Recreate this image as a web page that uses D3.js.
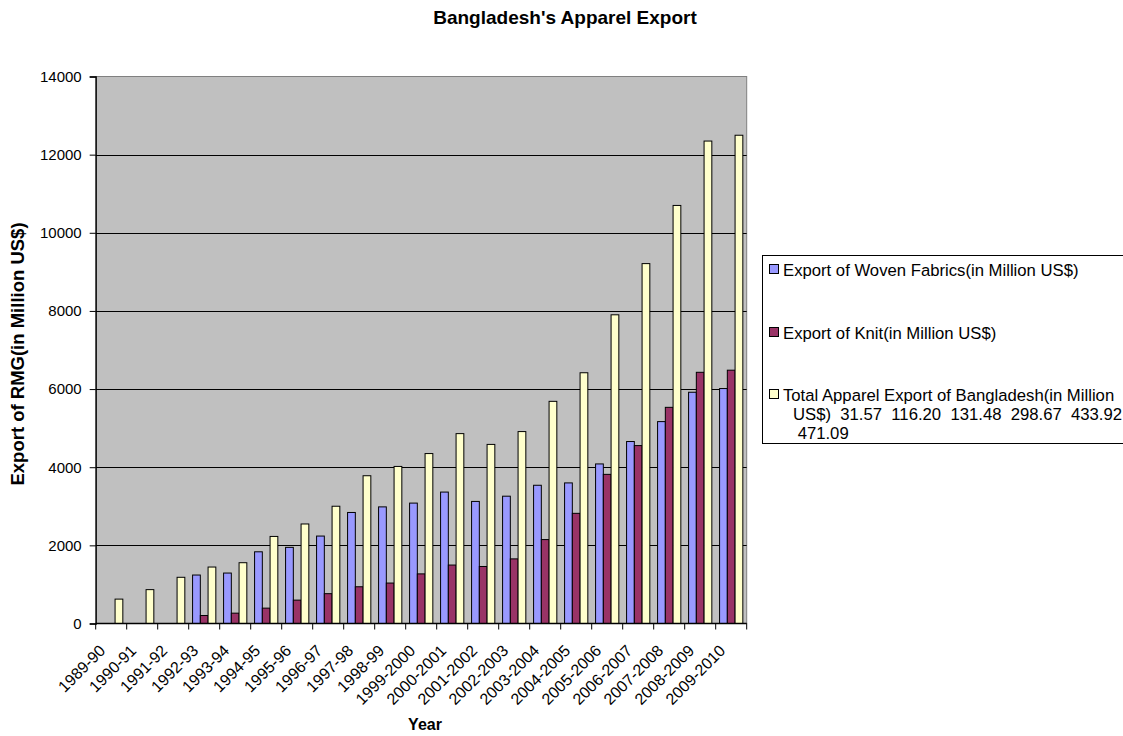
<!DOCTYPE html>
<html>
<head>
<meta charset="utf-8">
<script src="https://cdn.jsdelivr.net/npm/d3@7/dist/d3.min.js"></script>
<style>
  html, body { margin: 0; padding: 0; background: #fff; }
  svg { display: block; font-family: "Liberation Sans", Arial, sans-serif; }
</style>
</head>
<body>
<svg id="chart" width="1123" height="736"></svg>
<script>
// Fiscal years on the category axis
const years = ["1989-90", "1990-91", "1991-92", "1992-93", "1993-94", "1994-95", "1995-96",
  "1996-97", "1997-98", "1998-99", "1999-2000", "2000-2001", "2001-2002", "2002-2003",
  "2003-2004", "2004-2005", "2005-2006", "2006-2007", "2007-2008", "2008-2009", "2009-2010"];

// Export values, million US$ (null = no figure for that year)
const woven = [null, null, null, 1240.48, 1291.20, 1835.09, 1948.81, 2237.95, 2841.63, 2984.62,
  3081.58, 3363.68, 3124.56, 3258.26, 3538.07, 3598.20, 4083.82, 4657.63, 5167.28, 5918.51, 6013.43];
const knit = [null, null, null, 204.54, 264.59, 393.26, 598.32, 763.30, 940.31, 1035.36,
  1269.83, 1496.15, 1459.24, 1653.83, 2148.02, 2819.47, 3816.98, 4553.60, 5532.52, 6429.26, 6483.29];
const total = [624.16, 866.82, 1182.57, 1445.02, 1555.79, 2228.35, 2547.13, 3001.25, 3781.94, 4019.98,
  4349.41, 4859.83, 4583.75, 4912.09, 5686.09, 6417.67, 7900.80, 9211.23, 10699.80, 12347.77, 12496.72];

const yTicks = [0, 2000, 4000, 6000, 8000, 10000, 12000, 14000];

const seriesNames = [
  "Export of Woven Fabrics(in Million US$)",
  "Export of Knit(in Million US$)",
  "Total Apparel Export of Bangladesh(in Million"
];
const totalLegendExtra = ["US$)  31.57  116.20  131.48  298.67  433.92", " 471.09"];

const series = [
  { name: seriesNames[0], values: woven, color: "#9999FF" },
  { name: seriesNames[1], values: knit, color: "#993366" },
  { name: seriesNames[2], values: total, color: "#FFFFCC" }
];

const svg = d3.select("#chart");
const plot = { left: 95.7, right: 746.7, top: 76.5, bottom: 623.5 };

const x = d3.scaleBand().domain(years).range([plot.left, plot.right]).padding(0);
const xs = d3.scaleBand().domain(d3.range(series.length))
  .range([0, x.bandwidth()]).paddingInner(0).paddingOuter(0.5);
const y = d3.scaleLinear().domain([0, 14000]).range([plot.bottom, plot.top]);

// Plot area background
svg.append("rect")
  .attr("x", plot.left).attr("y", plot.top)
  .attr("width", plot.right - plot.left).attr("height", plot.bottom - plot.top)
  .attr("fill", "#C0C0C0").attr("stroke", "#808080").attr("stroke-width", 1);

// Horizontal gridlines
svg.append("g").selectAll("line")
  .data(yTicks.filter(t => t > 0 && t < 14000))
  .join("line")
  .attr("x1", plot.left).attr("x2", plot.right)
  .attr("y1", d => Math.round(y(d)) + 0.5).attr("y2", d => Math.round(y(d)) + 0.5)
  .attr("stroke", "#000").attr("stroke-width", 1);

// Bars
const groups = svg.append("g").selectAll("g")
  .data(series)
  .join("g")
  .attr("fill", d => d.color);

groups.each(function (s, si) {
  d3.select(this).selectAll("rect")
    .data(s.values.map((v, i) => ({ v, year: years[i] })).filter(d => d.v != null))
    .join("rect")
    .attr("x", d => x(d.year) + xs(si))
    .attr("width", xs.bandwidth())
    .attr("y", d => y(d.v))
    .attr("height", d => y(0) - y(d.v))
    .attr("stroke", "#000")
    .attr("stroke-width", 1);
});

// Y axis
const yAxis = svg.append("g")
  .attr("transform", `translate(${plot.left},0)`)
  .call(d3.axisLeft(y).tickValues(yTicks).tickSize(6).tickPadding(8).tickFormat(d3.format("d")));
yAxis.select(".domain").attr("stroke", "#000").attr("stroke-width", 1.3);
yAxis.selectAll(".tick line").attr("stroke", "#000");
yAxis.selectAll("text").attr("font-size", 15).attr("fill", "#000")
  .attr("font-family", "'Liberation Sans', Arial, sans-serif");

// X axis: ticks at category boundaries
const xAxis = svg.append("g").attr("transform", `translate(0,${plot.bottom})`);
xAxis.append("line")
  .attr("x1", plot.left).attr("x2", plot.right)
  .attr("stroke", "#000").attr("stroke-width", 1.3);
xAxis.selectAll("line.tk")
  .data(years.concat(["end"]))
  .join("line").attr("class", "tk")
  .attr("x1", (d, i) => i < years.length ? x(d) : plot.right)
  .attr("x2", (d, i) => i < years.length ? x(d) : plot.right)
  .attr("y1", 0).attr("y2", 6)
  .attr("stroke", "#000");
xAxis.selectAll("text")
  .data(years)
  .join("text")
  .attr("transform", d => `translate(${x(d) + x.bandwidth() / 2 - 13},${20}) rotate(-45)`)
  .attr("text-anchor", "end")
  .attr("dy", "0.72em")
  .attr("font-size", 16)
  .attr("fill", "#000")
  .text(d => d);

// Title and axis titles
svg.append("text")
  .attr("x", 565).attr("y", 24)
  .attr("text-anchor", "middle")
  .attr("font-size", 19).attr("font-weight", "bold")
  .text("Bangladesh's Apparel Export");

svg.append("text")
  .attr("x", 425).attr("y", 730)
  .attr("text-anchor", "middle")
  .attr("font-size", 16).attr("font-weight", "bold")
  .text("Year");

svg.append("text")
  .attr("transform", "translate(24,354) rotate(-90)")
  .attr("text-anchor", "middle")
  .attr("font-size", 18.5).attr("font-weight", "bold")
  .text("Export of RMG(in Million US$)");

// Legend
const legend = svg.append("g");
legend.append("rect")
  .attr("x", 762.5).attr("y", 255.5)
  .attr("width", 400).attr("height", 188)
  .attr("fill", "#fff").attr("stroke", "#000").attr("stroke-width", 1);

const legendRows = [270, 333, 395];
series.forEach((s, i) => {
  legend.append("rect")
    .attr("x", 769.5).attr("y", legendRows[i] - 5.5)
    .attr("width", 9).attr("height", 9)
    .attr("fill", s.color).attr("stroke", "#000").attr("stroke-width", 1);
  legend.append("text")
    .attr("x", 783).attr("y", legendRows[i])
    .attr("dy", "0.36em")
    .attr("font-size", 16.7)
    .text(s.name);
});
totalLegendExtra.forEach((line, j) => {
  legend.append("text")
    .attr("x", 793).attr("y", legendRows[2] + 19 * (j + 1))
    .attr("dy", "0.36em")
    .attr("font-size", 16.7)
    .attr("xml:space", "preserve")
    .style("white-space", "pre")
    .text(line);
});
</script>
</body>
</html>
